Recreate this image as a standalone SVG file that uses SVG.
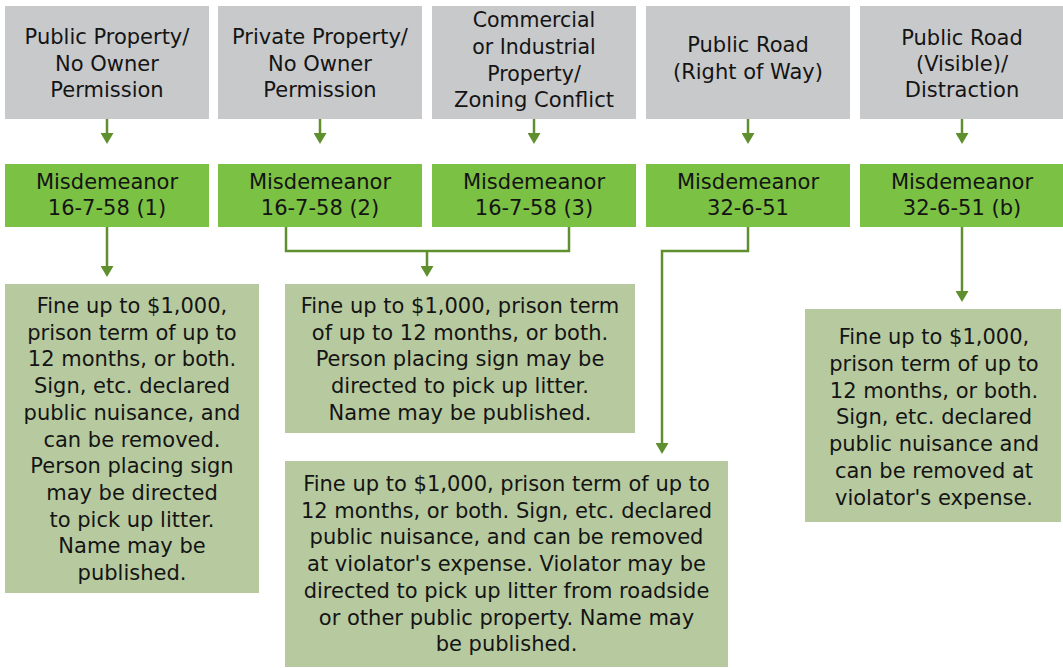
<svg xmlns="http://www.w3.org/2000/svg" width="1063" height="668" viewBox="0 0 1063 668">
<style>
.cat{fill:#C8C9CB}
.mis{fill:#7BC143}
.res{fill:#B7CA9F}
text{font-family:"DejaVu Sans","Liberation Sans",sans-serif;font-size:21px;fill:#141414;text-anchor:middle}
.small{font-size:20.5px}
.con{fill:none;stroke:#5F8F2E;stroke-width:2.5}
</style>
<defs>
<marker id="ah" markerUnits="userSpaceOnUse" markerWidth="11" markerHeight="13" refX="3" refY="6.5" orient="auto" viewBox="0 0 11 13">
<path d="M0,0 L11,6.5 L0,13 Z" fill="#5F8F2E"/>
</marker>
</defs>
<rect width="1063" height="668" fill="#FFFFFF"/>

<g id="cat1"><rect class="cat" x="5" y="6" width="204" height="113"/>
<text x="107" y="44">Public Property/</text><text x="107" y="71">No Owner</text><text x="107" y="97">Permission</text></g>
<g id="cat2"><rect class="cat" x="218" y="6" width="204" height="113"/>
<text x="320" y="44">Private Property/</text><text x="320" y="71">No Owner</text><text x="320" y="97">Permission</text></g>
<g id="cat3"><rect class="cat" x="432" y="6" width="204" height="113"/>
<text class="small" x="534" y="27">Commercial</text><text class="small" x="534" y="54">or Industrial</text><text class="small" x="534" y="81">Property/</text><text class="small" x="534" y="107" textLength="160" lengthAdjust="spacingAndGlyphs">Zoning Conflict</text></g>
<g id="cat4"><rect class="cat" x="646" y="6" width="204" height="113"/>
<text x="748" y="52">Public Road</text><text x="748" y="79">(Right of Way)</text></g>
<g id="cat5"><rect class="cat" x="860" y="6" width="203" height="113"/>
<text x="962" y="45">Public Road</text><text x="962" y="71">(Visible)/</text><text x="962" y="97">Distraction</text></g>

<g id="mis1"><rect class="mis" x="5" y="164" width="204" height="63"/>
<text x="107" y="189">Misdemeanor</text><text x="107" y="215">16-7-58 (1)</text></g>
<g id="mis2"><rect class="mis" x="218" y="164" width="204" height="63"/>
<text x="320" y="189">Misdemeanor</text><text x="320" y="215">16-7-58 (2)</text></g>
<g id="mis3"><rect class="mis" x="432" y="164" width="204" height="63"/>
<text x="534" y="189">Misdemeanor</text><text x="534" y="215">16-7-58 (3)</text></g>
<g id="mis4"><rect class="mis" x="646" y="164" width="204" height="63"/>
<text x="748" y="189">Misdemeanor</text><text x="748" y="215">32-6-51</text></g>
<g id="mis5"><rect class="mis" x="860" y="164" width="203" height="63"/>
<text x="962" y="189">Misdemeanor</text><text x="962" y="215">32-6-51 (b)</text></g>

<g id="res1"><rect class="res" x="5" y="284" width="254" height="309"/>
<text x="132" y="313">Fine up to $1,000,</text>
<text x="132" y="339.7">prison term of up to</text>
<text x="132" y="366.4">12 months, or both.</text>
<text x="132" y="393.1">Sign, etc. declared</text>
<text x="132" y="419.8">public nuisance, and</text>
<text x="132" y="446.5">can be removed.</text>
<text x="132" y="473.2">Person placing sign</text>
<text x="132" y="499.9">may be directed</text>
<text x="132" y="526.6">to pick up litter.</text>
<text x="132" y="553.3">Name may be</text>
<text x="132" y="580">published.</text></g>

<g id="res2"><rect class="res" x="285" y="284" width="350" height="149"/>
<text x="460" y="313">Fine up to $1,000, prison term</text>
<text x="460" y="339.7">of up to 12 months, or both.</text>
<text x="460" y="366.4">Person placing sign may be</text>
<text x="460" y="393.1">directed to pick up litter.</text>
<text x="460" y="419.8">Name may be published.</text></g>

<g id="res3"><rect class="res" x="285" y="461" width="443" height="206"/>
<text x="506.5" y="491">Fine up to $1,000, prison term of up to</text>
<text x="506.5" y="517.7">12 months, or both. Sign, etc. declared</text>
<text x="506.5" y="544.4">public nuisance, and can be removed</text>
<text x="506.5" y="571.1">at violator's expense. Violator may be</text>
<text x="506.5" y="597.8">directed to pick up litter from roadside</text>
<text x="506.5" y="624.5">or other public property. Name may</text>
<text x="506.5" y="651.2">be published.</text></g>

<g id="res4"><rect class="res" x="805" y="309" width="256" height="213"/>
<text x="934" y="344">Fine up to $1,000,</text>
<text x="934" y="370.8">prison term of up to</text>
<text x="934" y="397.6">12 months, or both.</text>
<text x="934" y="424.4">Sign, etc. declared</text>
<text x="934" y="451.2">public nuisance and</text>
<text x="934" y="478">can be removed at</text>
<text x="934" y="504.8">violator's expense.</text></g>

<g id="connectors">
<path class="con" d="M107,119 V136" marker-end="url(#ah)"/>
<path class="con" d="M320,119 V136" marker-end="url(#ah)"/>
<path class="con" d="M534,119 V136" marker-end="url(#ah)"/>
<path class="con" d="M748,119 V136" marker-end="url(#ah)"/>
<path class="con" d="M962,119 V136" marker-end="url(#ah)"/>
<path class="con" d="M107,227 V269" marker-end="url(#ah)"/>
<path class="con" d="M286,227 V251 H569 V227"/>
<path class="con" d="M427,251 V269" marker-end="url(#ah)"/>
<path class="con" d="M748,227 V251 H662 V446" marker-end="url(#ah)"/>
<path class="con" d="M962,227 V294" marker-end="url(#ah)"/>
</g>
</svg>
